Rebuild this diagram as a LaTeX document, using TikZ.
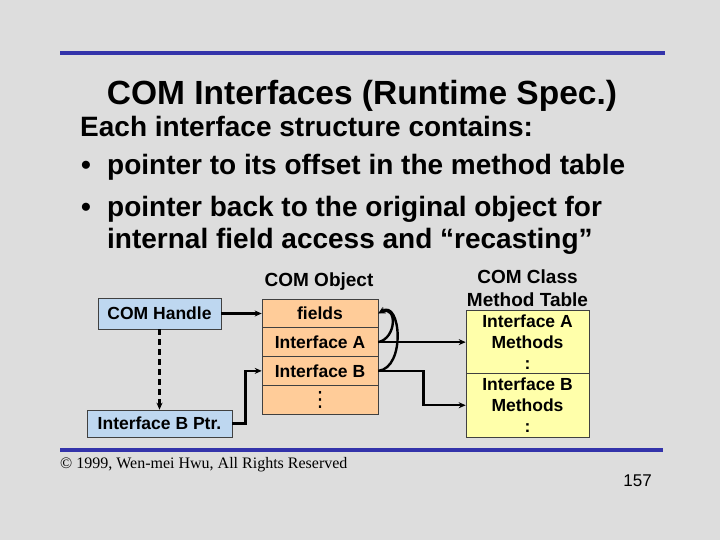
\documentclass[tikz,border=0pt]{standalone}
\usepackage{fontspec}
\setmainfont{Liberation Sans}
\newfontfamily\footfont{Liberation Serif}
\newfontfamily\dotsfont{DejaVu Sans}
\usetikzlibrary{arrows.meta,calc}
\definecolor{bg}{RGB}{221,221,221}
\definecolor{rulebl}{RGB}{51,51,170}
\definecolor{handlebl}{RGB}{190,215,240}
\definecolor{peach}{RGB}{255,204,153}
\definecolor{paleyel}{RGB}{255,255,170}
\tikzset{
  boxfont/.style={font=\fontsize{17.5}{21}\selectfont\bfseries},
  hdrfont/.style={font=\fontsize{19}{23}\selectfont\bfseries},
  bodyfont/.style={font=\fontsize{28}{32}\selectfont\bfseries, anchor=base west, inner sep=0pt},
  bluebox/.style={draw=black!75, line width=0.6pt, fill=handlebl, inner sep=0pt, boxfont},
  objcell/.style={draw=black!75, line width=0.6pt, fill=peach, minimum width=116pt, minimum height=28.75pt, inner sep=0pt, boxfont},
  tabcell/.style={draw=black!75, line width=0.6pt, fill=paleyel, minimum width=123pt, minimum height=63.5pt, inner sep=0pt, boxfont, align=center},
  conn/.style={line width=2.4pt, -{Stealth[length=7pt,width=6pt]}},
  rulebar/.style={rulebl, line width=4pt}
}
\begin{document}
\begin{tikzpicture}[x=1pt,y=-1pt]
\useasboundingbox (0,0) rectangle (720,540);
\fill[bg] (0,0) rectangle (720,540);

% rules
\coordinate (r1a) at (60,53); \coordinate (r1b) at (665,53);
\coordinate (r2a) at (60,450); \coordinate (r2b) at (663,450);
\draw[rulebar] (r1a) -- (r1b);
\draw[rulebar] (r2a) -- (r2b);

% title
\node[font=\fontsize{33.5}{38}\selectfont\bfseries, anchor=base, inner sep=0pt] (title) at (362,105) {COM Interfaces (Runtime Spec.)};

% body text
\node[bodyfont] (l1) at (80,137) {Each interface structure contains:};
\node[bodyfont] (b1) at (81,175) {•};
\node[bodyfont] (l2) at (107,175) {pointer to its offset in the method table};
\node[bodyfont] (b2) at (81,217) {•};
\node[bodyfont] (l3) at (107,217) {pointer back to the original object for};
\node[bodyfont] (l4) at (107,248) {internal field access and “recasting”};

% left boxes
\node[bluebox, minimum width=123pt, minimum height=31pt] (handle) at (159.5,313.5) {COM Handle};
\node[bluebox, minimum width=145pt, minimum height=27pt] (bptr) at (159.5,423.5) {Interface B Ptr.};

% COM object
\node[hdrfont] (objlbl) at (319,282) {COM Object};
\node[objcell] (fields) at (320,313.375) {fields};
\node[objcell] (ia) at (320,342.125) {Interface A};
\node[objcell] (ib) at (320,370.875) {Interface B};
\node[objcell, font=\dotsfont\fontsize{21}{21}\selectfont] (odots) at (320,399.625) {⋮};

% method table
\node[hdrfont, align=center] (tablbl) at (527.5,288) {COM Class\\Method Table};
\node[tabcell] (ta) at (527.5,341.75) {Interface A\\Methods\\:};
\node[tabcell] (tb) at (527.5,405.25) {Interface B\\Methods\\:};

% connectors
\draw[conn] (handle.east) -- (handle.east -| fields.west);
\draw[line width=2.4pt, dash pattern=on 6pt off 4pt, -{Stealth[length=7pt,width=6pt]}] (handle.south) -- (bptr.north);
\draw[conn] (bptr.east) -- ++(13,0) |- (ib.west);
\draw[conn] (ia.east) -- (ia.east -| ta.west);
\draw[conn] (ib.east) -- ++(45,0) |- (tb.west);
\draw[conn] (ia.east) .. controls (397,338) and (397,305) .. (fields.east);
\draw[conn] (ib.east) .. controls (406,368) and (401,299) .. (fields.east);

% footer
\node[font=\footfont\fontsize{16}{19}\selectfont, anchor=base west, inner sep=0pt] (copy) at (60,468) {© 1999, Wen-mei Hwu, All Rights Reserved};
\node[font=\fontsize{17}{20}\selectfont, anchor=base east, inner sep=0pt] (pnum) at (652,486) {157};
\end{tikzpicture}
\end{document}
